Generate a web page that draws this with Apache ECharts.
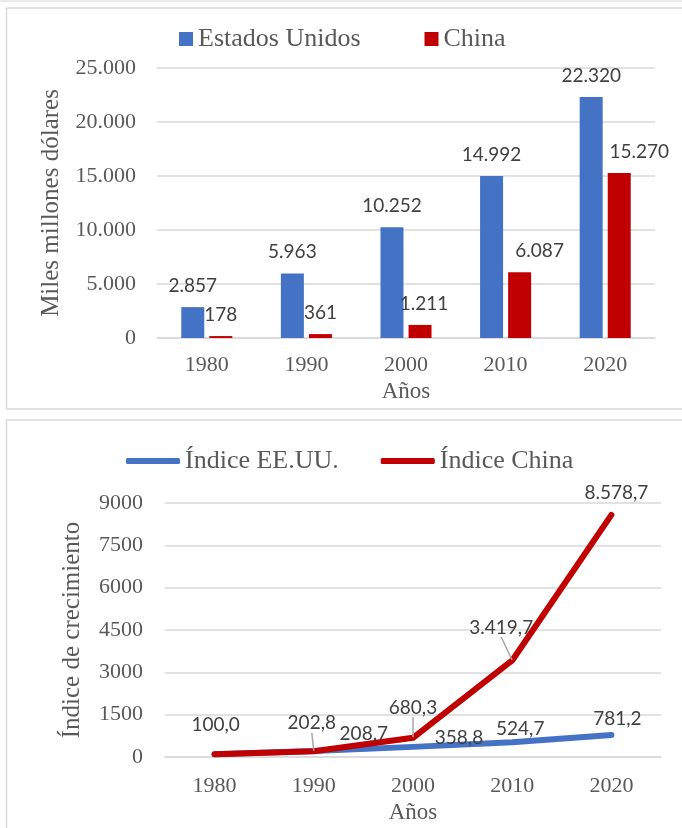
<!DOCTYPE html>
<html><head><meta charset="utf-8">
<script src="https://cdn.jsdelivr.net/npm/echarts@6/dist/echarts.min.js"></script>
<style>html,body{margin:0;padding:0;background:#fff}#c{width:682px;height:828px}</style>
</head><body><div id="c"></div>
<script>
// ---- data ----
const years = ['1980', '1990', '2000', '2010', '2020'];
const gdpUS = [2857, 5963, 10252, 14992, 22320];
const gdpChina = [178, 361, 1211, 6087, 15270];
const indexUS = [100.0, 208.7, 358.8, 524.7, 781.2];
const indexChina = [100.0, 202.8, 680.3, 3419.7, 8578.7];
const barNames = ['Estados Unidos', 'China'];
const lineNames = ['Índice EE.UU.', 'Índice China'];

// ---- label placement (layout only) ----
const cnBarLabelShift = [0, 0, 4, 20, 20];
const usLabelOffset = [null, [50, -17], [46, -9], [8, -13], [6, -16]];
const cnLabelOffset = [[1, -29], [-2, -28], [0, -30], [-11, -33], [5, -22]];
const cnLeader = [false, true, true, true, false];

const BLUE = '#4472c4', RED = '#c00000', TXT = '#595959', LBL = '#404040', GRID = '#d9d9d9';
const SERIF = '"Liberation Serif", "DejaVu Serif", serif';
const SANS = 'Lato, "Open Sans", sans-serif';

function thousands(s) { return s.replace(/\B(?=(\d{3})+(?!\d))/g, '.'); }
function fmtInt(v) { return thousands(String(Math.round(v))); }
function fmtIdx(v) { const p = v.toFixed(1).split('.'); return thousands(p[0]) + ',' + p[1]; }

const chart = echarts.init(document.getElementById('c'), null, { renderer: 'canvas' });

const cnBarData = gdpChina.map((v, i) => ({ value: v, label: { offset: [cnBarLabelShift[i], 0] } }));
const usLineData = indexUS.map((v, i) => usLabelOffset[i] ? v : { value: v, label: { show: false } });
const cnLineData = indexChina.map((v, i) => ({ value: v, labelLine: { show: cnLeader[i] } }));

function placeLabel(offsets) {
  return function (p) {
    const o = offsets[p.dataIndex];
    if (!o) return {};
    return {
      x: p.rect.x + p.rect.width / 2 + o[0],
      y: p.rect.y + p.rect.height / 2 + o[1],
      align: 'center',
      verticalAlign: 'middle'
    };
  };
}

const axisLabelSerif = { color: TXT, fontFamily: SERIF, fontSize: 22 };
const barLabel = { show: true, position: 'top', distance: 12, color: LBL, fontFamily: SANS, fontSize: 19, formatter: p => fmtInt(p.value) };

chart.setOption({
  animation: false,
  backgroundColor: '#fff',
  graphic: [
    { type: 'line', shape: { x1: 0, y1: 1, x2: 682, y2: 1 }, style: { stroke: '#e3e3e3', lineWidth: 1.5 }, silent: true },
    { type: 'rect', shape: { x: 6.5, y: 8, width: 700, height: 401 }, style: { fill: 'none', stroke: GRID, lineWidth: 1.5 }, silent: true },
    { type: 'rect', shape: { x: 6.5, y: 420, width: 700, height: 430 }, style: { fill: 'none', stroke: GRID, lineWidth: 1.5 }, silent: true }
  ],
  legend: [
    {
      data: barNames, left: 174, top: 21, icon: 'rect', itemWidth: 14, itemHeight: 14, itemGap: 64,
      textStyle: { color: TXT, fontFamily: SERIF, fontSize: 26 }
    },
    {
      data: lineNames, left: 121, top: 443, icon: 'roundRect', itemWidth: 54, itemHeight: 6, itemGap: 42,
      textStyle: { color: TXT, fontFamily: SERIF, fontSize: 26 }
    }
  ],
  grid: [
    { left: 157, right: 27, top: 68, height: 270 },
    { left: 165, right: 21, top: 503, height: 254 }
  ],
  xAxis: [
    {
      gridIndex: 0, type: 'category', data: years,
      axisLine: { lineStyle: { color: GRID, width: 1.5 } }, axisTick: { show: false },
      axisLabel: Object.assign({ margin: 16 }, axisLabelSerif),
      name: 'Años', nameLocation: 'middle', nameGap: 42,
      nameTextStyle: { color: TXT, fontFamily: SERIF, fontSize: 23 }
    },
    {
      gridIndex: 1, type: 'category', data: years,
      axisLine: { lineStyle: { color: GRID, width: 1.5 } }, axisTick: { show: false },
      axisLabel: Object.assign({ margin: 18 }, axisLabelSerif),
      name: 'Años', nameLocation: 'middle', nameGap: 44,
      nameTextStyle: { color: TXT, fontFamily: SERIF, fontSize: 23 }
    }
  ],
  yAxis: [
    {
      gridIndex: 0, type: 'value', min: 0, max: 25000, interval: 5000,
      axisLine: { show: false }, axisTick: { show: false },
      splitLine: { lineStyle: { color: GRID, width: 1.5 } },
      axisLabel: Object.assign({ margin: 21, formatter: v => fmtInt(v) }, axisLabelSerif),
      name: 'Miles millones dólares', nameLocation: 'middle', nameGap: 93,
      nameTextStyle: { color: TXT, fontFamily: SERIF, fontSize: 25 }
    },
    {
      gridIndex: 1, type: 'value', min: 0, max: 9000, interval: 1500,
      axisLine: { show: false }, axisTick: { show: false },
      splitLine: { lineStyle: { color: GRID, width: 1.5 } },
      axisLabel: Object.assign({ margin: 22, formatter: v => String(v) }, axisLabelSerif),
      name: 'Índice de crecimiento', nameLocation: 'middle', nameGap: 80,
      nameTextStyle: { color: TXT, fontFamily: SERIF, fontSize: 25 }
    }
  ],
  series: [
    {
      name: barNames[0], type: 'bar', xAxisIndex: 0, yAxisIndex: 0, data: gdpUS,
      barWidth: 23, barGap: '22%', itemStyle: { color: BLUE }, label: barLabel
    },
    {
      name: barNames[1], type: 'bar', xAxisIndex: 0, yAxisIndex: 0, data: cnBarData,
      barWidth: 23, barGap: '22%', itemStyle: { color: RED }, label: barLabel
    },
    {
      name: lineNames[0], type: 'line', xAxisIndex: 1, yAxisIndex: 1, data: usLineData,
      symbol: 'circle', symbolSize: 1, showSymbol: true,
      itemStyle: { color: BLUE }, lineStyle: { color: BLUE, width: 6, cap: 'round', join: 'round' },
      label: { show: true, position: 'top', color: LBL, fontFamily: SANS, fontSize: 19, formatter: p => fmtIdx(p.value) },
      labelLayout: placeLabel(usLabelOffset)
    },
    {
      name: lineNames[1], type: 'line', xAxisIndex: 1, yAxisIndex: 1, data: cnLineData,
      symbol: 'circle', symbolSize: 1, showSymbol: true,
      itemStyle: { color: RED }, lineStyle: { color: RED, width: 6, cap: 'round', join: 'round' },
      label: { show: true, position: 'top', color: LBL, fontFamily: SANS, fontSize: 19, formatter: p => fmtIdx(p.value) },
      labelLine: { show: true, lineStyle: { color: '#a6a6a6', width: 1.5 } },
      labelLayout: placeLabel(cnLabelOffset)
    }
  ]
});
</script>
</body></html>
